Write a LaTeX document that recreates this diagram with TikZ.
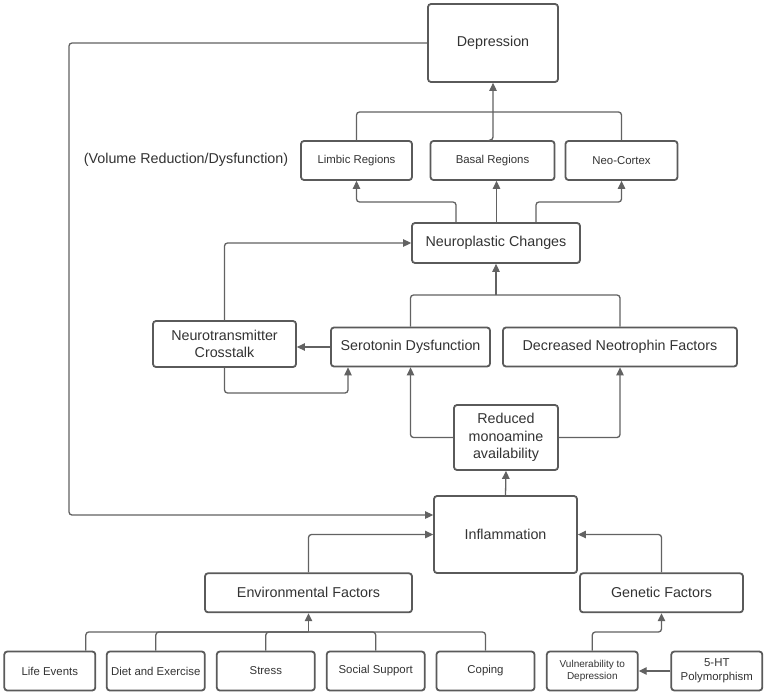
\documentclass[tikz,border=0pt]{standalone}
\usepackage{fontspec}
\setmainfont{Liberation Sans}
\usetikzlibrary{arrows.meta,calc}
\definecolor{boxc}{HTML}{5A5A5A}
\definecolor{linec}{HTML}{626262}
\definecolor{txtc}{HTML}{333333}
\begin{document}
\begin{tikzpicture}[x=1pt,y=-1pt,
  box/.style={draw=boxc, line width=1.8pt, rounded corners=3pt, align=center, inner sep=0pt, text=txtc, fill=white},
  big/.style={font=\fontsize{14.3}{17.3}\selectfont},
  small/.style={font=\fontsize{11.4}{13.8}\selectfont},
  tiny/.style={font=\fontsize{10}{12.3}\selectfont},
  conn/.style={draw=linec, line width=1.3pt, rounded corners=3pt},
  arr/.style={conn, -{Triangle[length=8pt,width=7.5pt]}}]
\useasboundingbox[fill=white] (0,0) rectangle (765,695);

% nodes
\node[box,big,minimum width=130pt,minimum height=78pt] (dep) at (493,43) {Depression};
\node[box,small,minimum width=111pt,minimum height=39pt] (limbic) at (356.5,160.5) {Limbic Regions};
\node[box,small,minimum width=124pt,minimum height=39pt] (basal) at (492.5,160.5) {Basal Regions};
\node[box,small,minimum width=112pt,minimum height=39pt] (neo) at (621.5,160.5) {Neo-Cortex};
\node[big,text=txtc,inner sep=0pt] (vol) at (186,160) {(Volume Reduction/Dysfunction)};
\node[box,big,minimum width=168pt,minimum height=40pt] (neuro) at (496,243) {Neuroplastic Changes};
\node[box,big,minimum width=143pt,minimum height=46pt] (ntc) at (224.5,344) {Neurotransmitter\\Crosstalk};
\node[box,big,minimum width=159pt,minimum height=39pt] (sero) at (410.5,347) {Serotonin Dysfunction};
\node[box,big,minimum width=234pt,minimum height=39pt] (dnf) at (620,347) {Decreased Neotrophin Factors};
\node[box,big,minimum width=104pt,minimum height=65pt] (rma) at (506,437.5) {Reduced\\monoamine\\availability};
\node[box,big,minimum width=143pt,minimum height=77pt] (infl) at (505.5,534.5) {Inflammation};
\node[box,big,minimum width=207pt,minimum height=39pt] (env) at (308.5,592.8) {Environmental Factors};
\node[box,big,minimum width=163pt,minimum height=39pt] (gen) at (661.5,592.8) {Genetic Factors};
\node[box,small,minimum width=91pt,minimum height=39pt] (life) at (49.8,671) {Life Events};
\node[box,small,minimum width=98pt,minimum height=39pt] (diet) at (155.8,671) {Diet and Exercise};
\node[box,small,minimum width=98pt,minimum height=39pt] (stress) at (265.8,671) {Stress};
\node[box,small,minimum width=98pt,minimum height=39pt] (social) at (375.7,671) {Social Support};
\node[box,small,minimum width=98pt,minimum height=39pt] (coping) at (485.5,671) {Coping};
\node[box,tiny,minimum width=91pt,minimum height=39pt] (vul) at (592.3,671) {Vulnerability to\\Depression};
\node[box,font=\fontsize{11.4}{14}\selectfont,minimum width=91pt,minimum height=39pt] (ht) at (716.8,671) {5-HT\\Polymorphism};

% helper coordinates
\coordinate (lc) at (69,515);
\coordinate (b1) at (493,112);
\coordinate (b2) at (0,202);
\coordinate (b3) at (0,295);
\coordinate (lp) at (348,393);
\coordinate (eb) at (308.5,632);

% connectors
\draw[arr] (dep.west) -| (lc) -- (lc -| infl.west);
\draw[arr] (basal.north) -- (basal.north -| dep.south) -- (dep.south);
\draw[conn] (limbic.north) |- (b1);
\draw[conn] (neo.north) |- (b1);
\draw[arr] ([xshift=-40pt]neuro.north) |- (limbic.south |- b2) -- (limbic.south);
\draw[arr] ([xshift=0.5pt]neuro.north) -- ([xshift=0.5pt]neuro.north |- basal.south);
\draw[arr] ([xshift=40pt]neuro.north) |- (neo.south |- b2) -- (neo.south);
\draw[arr] (ntc.north) |- (neuro.west);
\draw[arr] (sero.west) -- (sero.west -| ntc.east);
\draw[arr] (ntc.south) |- (lp) -- (lp |- sero.south);
\draw[conn] (sero.north) |- (dnf.north |- b3) -- (dnf.north);
\draw[arr] (neuro.south |- b3) -- (neuro.south);
\draw[arr] (rma.west) -| (sero.south);
\draw[arr] (rma.east) -| (dnf.south);
\draw[arr] (infl.north) -- (rma.south);
\draw[arr] (env.north) |- (infl.west);
\draw[arr] (gen.north) |- (infl.east);
\draw[conn] ([xshift=36pt]life.north) |- (eb);
\draw[conn] (diet.north) |- (eb);
\draw[conn] (stress.north) |- (eb);
\draw[conn] (social.north) |- (eb);
\draw[conn] (coping.north) |- (eb);
\draw[arr] (eb) -- (env.south);
\draw[arr] (vul.north) |- (gen.south |- eb) -- (gen.south);
\draw[arr] (ht.west) -- (vul.east);
\end{tikzpicture}
\end{document}
